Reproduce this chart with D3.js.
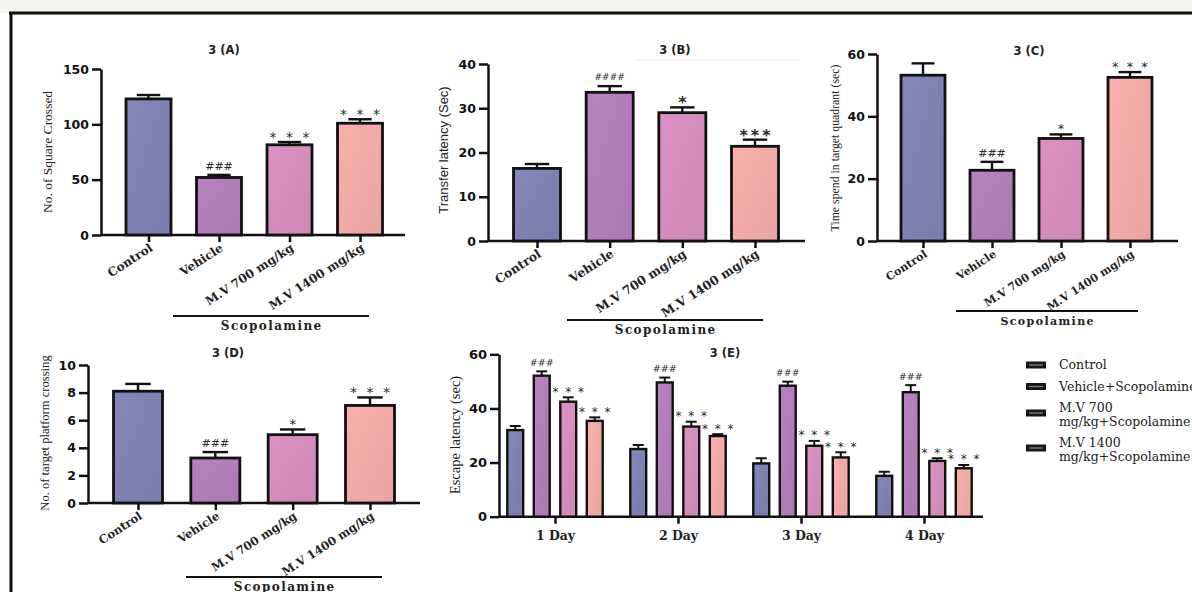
<!DOCTYPE html>
<html>
<head>
<meta charset="utf-8">
<script src="https://cdn.jsdelivr.net/npm/d3@7"></script>
<style>
  html, body { margin: 0; padding: 0; background: #ffffff; }
  svg { display: block; }
</style>
</head>
<body>
<svg id="chart" width="1192" height="592"></svg>
<script>
// ---------------- DATA ----------------
const categories = ["Control", "Vehicle", "M.V 700 mg/kg", "M.V 1400 mg/kg"];
const legendNames = ["Control", "Vehicle+Scopolamine", "M.V 700\nmg/kg+Scopolamine", "M.V 1400\nmg/kg+Scopolamine"];
const groupLabel = "Scopolamine";

// 3 (A) No. of Square Crossed
const aMean = [123, 52, 81.5, 101];
const aSem  = [3.5, 2.3, 2.5, 3.6];
const aSig  = ["", "###", "* * *", "* * *"];
const aTicks = [0, 50, 100, 150];

// 3 (B) Transfer latency (Sec)
const bMean = [16.4, 33.6, 29.0, 21.4];
const bSem  = [1.0, 1.4, 1.2, 1.5];
const bSig  = ["", "####", "*", "***"];
const bTicks = [0, 10, 20, 30, 40];

// 3 (C) Time spend in target quadrant (sec)
const cMean = [53.2, 22.7, 32.9, 52.5];
const cSem  = [3.8, 2.7, 1.3, 1.7];
const cSig  = ["", "###", "*", "* * *"];
const cTicks = [0, 20, 40, 60];

// 3 (D) No. of target platform crossing
const dMean = [8.1, 3.26, 4.95, 7.07];
const dSem  = [0.53, 0.43, 0.38, 0.58];
const dSig  = ["", "###", "*", "* * *"];
const dTicks = [0, 2, 4, 6, 8, 10];

// 3 (E) Escape latency (sec)
const eDays = ["1 Day", "2 Day", "3 Day", "4 Day"];
const eControl = [32.0, 25.0, 19.7, 15.1];
const eVehicle = [52.1, 49.6, 48.4, 46.0];
const eMv700   = [42.5, 33.3, 26.2, 20.6];
const eMv1400  = [35.4, 29.8, 21.9, 17.9];
const eControlSem = [1.5, 1.5, 1.9, 1.5];
const eVehicleSem = [1.6, 1.8, 1.5, 2.6];
const eMv700Sem   = [1.6, 1.8, 1.8, 1.0];
const eMv1400Sem  = [1.3, 0.7, 1.9, 1.2];
const eSigVehicle = ["###", "###", "###", "###"];
const eSigMv700   = ["* * *", "* * *", "* * *", "* * *"];
const eSigMv1400  = ["* * *", "* * *", "* * *", "* * *"];
const eTicks = [0, 20, 40, 60];

// ---------------- STYLE ----------------
const colors = ["#7e80b1", "#b07cb8", "#d38cba", "#f0a9a6"];
const ink = "#111111";
const svg = d3.select("#chart");

// frame
svg.append("rect").attr("x", 0).attr("y", 0).attr("width", 1192).attr("height", 13).attr("fill", "#f4f4f0");
svg.append("line").attr("x1", 9).attr("x2", 1192).attr("y1", 13).attr("y2", 13).attr("stroke", ink).attr("stroke-width", 3);
svg.append("line").attr("x1", 11).attr("x2", 11).attr("y1", 12).attr("y2", 592).attr("stroke", ink).attr("stroke-width", 3);

// gradients
const defs = svg.append("defs");
colors.forEach((c, i) => {
  const g = defs.append("linearGradient").attr("id", "grad" + i).attr("x1", 0).attr("x2", 1).attr("y1", 0).attr("y2", 1);
  g.append("stop").attr("offset", "0%").attr("stop-color", d3.color(c).brighter(0.12));
  g.append("stop").attr("offset", "100%").attr("stop-color", d3.color(c).darker(0.08));
});

function sigBaseline(s, fs) { return s.includes("#") ? 0.36 * fs : 0.62 * fs; }

function styleAxis(g, w) {
  g.selectAll(".domain").attr("stroke", ink).attr("stroke-width", w);
  g.selectAll(".tick line").attr("stroke", ink).attr("stroke-width", w);
}

function addSig(g, s, cx, yTop, o) {
  const isHash = s.includes("#");
  const fs = isHash ? o.hashFs : o.starFs;
  const ls = isHash ? 0 : o.starLs;
  g.append("text").attr("x", cx + ls / 2).attr("y", yTop - 9 + sigBaseline(s, fs))
    .attr("text-anchor", "middle").attr("font-family", "DejaVu Sans")
    .attr("font-weight", isHash ? "normal" : o.starWeight)
    .attr("letter-spacing", ls)
    .attr("font-size", fs).attr("fill", "#2a2a2a").text(s);
}

function drawPanel(o) {
  const g = svg.append("g");
  const y = d3.scaleLinear().domain([0, o.max]).range([o.y0, o.yTop]);
  const x = d3.scalePoint().domain(categories).range([o.c0, o.c1]);

  g.append("line").attr("x1", o.axisX).attr("x2", o.xEnd).attr("y1", o.y0).attr("y2", o.y0)
    .attr("stroke", ink).attr("stroke-width", 2.5);
  const xa = g.append("g").attr("transform", `translate(0,${o.y0})`)
    .call(d3.axisBottom(x).tickSize(7).tickSizeOuter(0).tickFormat(""));
  xa.select(".domain").remove();
  styleAxis(xa, 2.5);

  const ya = g.append("g").attr("transform", `translate(${o.axisX},0)`)
    .call(d3.axisLeft(y).tickValues(o.ticks).tickSize(9).tickSizeOuter(0).tickPadding(3));
  styleAxis(ya, 2.5);
  ya.selectAll(".tick text").attr("font-family", "DejaVu Sans").attr("font-weight", "bold")
    .attr("font-size", 12.5).attr("fill", ink);

  categories.forEach((c, i) => {
    const v = o.mean[i], e = o.sem[i];
    g.append("rect").attr("x", x(c) - o.bw / 2).attr("y", y(v)).attr("width", o.bw).attr("height", y(0) - y(v))
      .attr("fill", `url(#grad${i})`).attr("stroke", ink).attr("stroke-width", 2.8);
    g.append("line").attr("x1", x(c)).attr("x2", x(c)).attr("y1", y(v)).attr("y2", y(v + e))
      .attr("stroke", ink).attr("stroke-width", 2.4);
    g.append("line").attr("x1", x(c) - o.bw * 0.26).attr("x2", x(c) + o.bw * 0.26).attr("y1", y(v + e)).attr("y2", y(v + e))
      .attr("stroke", ink).attr("stroke-width", 2.4);
    if (o.sig[i]) addSig(g, o.sig[i], x(c), y(v + e), o);
    g.append("text").attr("transform", `translate(${x(c) + 5},${o.y0 + 15}) rotate(-33)`)
      .attr("text-anchor", "end").attr("font-family", "DejaVu Serif").attr("font-weight", "bold")
      .attr("font-size", o.catFs).attr("fill", "#222").text(c);
  });

  g.append("text").attr("x", o.titleX).attr("y", o.titleY + 4).attr("text-anchor", "middle")
    .attr("font-family", "DejaVu Sans").attr("font-weight", "bold").attr("font-size", 11.5).attr("fill", "#222").text(o.title);

  g.append("text").attr("transform", `translate(${o.labX},${o.labY}) rotate(-90)`)
    .attr("text-anchor", "middle").attr("dominant-baseline", "central")
    .attr("font-family", o.labFont).attr("font-size", o.labFs).attr("fill", "#222").text(o.label);

  g.append("line").attr("x1", o.sx0).attr("x2", o.sx1).attr("y1", o.sy).attr("y2", o.sy).attr("stroke", ink).attr("stroke-width", 2);
  g.append("text").attr("x", (o.sx0 + o.sx1) / 2 + 0.7).attr("y", o.sy + 14).attr("text-anchor", "middle")
    .attr("font-family", "DejaVu Serif").attr("font-weight", "bold").attr("font-size", o.scopFs)
    .attr("letter-spacing", 1.4).attr("fill", "#222").text(groupLabel);
}

const sigStd = { hashFs: 11, starFs: 14, starLs: 2.5, starWeight: "normal" };

drawPanel(Object.assign({ mean: aMean, sem: aSem, sig: aSig, ticks: aTicks, max: 150,
  axisX: 101, y0: 235, yTop: 69, c0: 148.5, c1: 360, bw: 45, xEnd: 405, catFs: 12, scopFs: 12,
  title: "3 (A)", titleX: 224, titleY: 50,
  label: "No. of Square Crossed", labX: 47, labY: 152, labFont: "Liberation Serif", labFs: 13.5,
  sx0: 173, sx1: 369, sy: 316 }, sigStd));

drawPanel({ mean: bMean, sem: bSem, sig: bSig, ticks: bTicks, max: 40,
  axisX: 488, y0: 241, yTop: 64, c0: 537, c1: 755, bw: 47, xEnd: 805, catFs: 12.3, scopFs: 12,
  title: "3 (B)", titleX: 675, titleY: 50,
  label: "Transfer latency (Sec)", labX: 443, labY: 150, labFont: "Liberation Sans", labFs: 13,
  hashFs: 9, starFs: 16, starLs: 3, starWeight: "bold",
  sx0: 567, sx1: 763, sy: 320 });

drawPanel(Object.assign({ mean: cMean, sem: cSem, sig: cSig, ticks: cTicks, max: 60,
  axisX: 877, y0: 241, yTop: 54, c0: 923, c1: 1130, bw: 44, xEnd: 1178, catFs: 11, scopFs: 11,
  title: "3 (C)", titleX: 1029, titleY: 51,
  label: "Time spend in target quadrant (sec)", labX: 835, labY: 148, labFont: "Liberation Serif", labFs: 11.8,
  sx0: 956, sx1: 1138, sy: 311 }, sigStd, { starFs: 13, starLs: 2 }));

drawPanel(Object.assign({ mean: dMean, sem: dSem, sig: dSig, ticks: dTicks, max: 10,
  axisX: 88, y0: 503, yTop: 365, c0: 138, c1: 370, bw: 49, xEnd: 420, catFs: 11.6, scopFs: 12,
  title: "3 (D)", titleX: 228, titleY: 353,
  label: "No. of target platform crossing", labX: 45, labY: 433, labFont: "Liberation Serif", labFs: 12.6,
  sx0: 186, sx1: 382, sy: 577 }, sigStd));

// faint guide line in B
svg.append("line").attr("x1", 635).attr("x2", 800).attr("y1", 60).attr("y2", 60).attr("stroke", "#ececec").attr("stroke-width", 1);

// ---------------- PANEL E ----------------
(function () {
  const g = svg.append("g");
  const axisX = 499, y0 = 516.7, yTop = 354.3;
  const series = [eControl, eVehicle, eMv700, eMv1400];
  const sems = [eControlSem, eVehicleSem, eMv700Sem, eMv1400Sem];
  const sigs = [null, eSigVehicle, eSigMv700, eSigMv1400];
  const y = d3.scaleLinear().domain([0, 60]).range([y0, yTop]);
  const x = d3.scalePoint().domain(eDays).range([555, 924]);
  const inner = d3.scaleBand().domain(d3.range(4)).range([-53, 53]).paddingInner(0.4).paddingOuter(0.2);

  g.append("line").attr("x1", axisX).attr("x2", 983).attr("y1", y0).attr("y2", y0).attr("stroke", ink).attr("stroke-width", 2.5);
  const xa = g.append("g").attr("transform", `translate(0,${y0})`)
    .call(d3.axisBottom(x).tickSize(7).tickSizeOuter(0).tickPadding(7));
  xa.select(".domain").remove();
  styleAxis(xa, 2.5);
  xa.selectAll(".tick text").attr("font-family", "DejaVu Serif").attr("font-weight", "bold")
    .attr("font-size", 12.5).attr("fill", "#222");

  const ya = g.append("g").attr("transform", `translate(${axisX},0)`)
    .call(d3.axisLeft(y).tickValues(eTicks).tickSize(9).tickSizeOuter(0).tickPadding(3));
  styleAxis(ya, 2.5);
  ya.selectAll(".tick text").attr("font-family", "DejaVu Sans").attr("font-weight", "bold")
    .attr("font-size", 13).attr("fill", ink);

  const eSigStyle = { hashFs: 9.5, starFs: 12, starLs: 1.5, starWeight: "normal" };
  eDays.forEach((d, j) => {
    series.forEach((s, i) => {
      const v = s[j], e = sems[i][j];
      const bx = x(d) + inner(i), bw = inner.bandwidth(), cx = bx + bw / 2;
      g.append("rect").attr("x", bx).attr("y", y(v)).attr("width", bw).attr("height", y(0) - y(v))
        .attr("fill", `url(#grad${i})`).attr("stroke", ink).attr("stroke-width", 2.4);
      g.append("line").attr("x1", cx).attr("x2", cx).attr("y1", y(v)).attr("y2", y(v + e)).attr("stroke", ink).attr("stroke-width", 2);
      g.append("line").attr("x1", cx - 5.5).attr("x2", cx + 5.5).attr("y1", y(v + e)).attr("y2", y(v + e)).attr("stroke", ink).attr("stroke-width", 2);
      if (sigs[i]) addSig(g, sigs[i][j], cx, y(v + e), eSigStyle);
    });
  });

  g.append("text").attr("x", 725).attr("y", 357).attr("text-anchor", "middle")
    .attr("font-family", "DejaVu Sans").attr("font-weight", "bold").attr("font-size", 11.5).attr("fill", "#222").text("3 (E)");

  g.append("text").attr("transform", `translate(455,435) rotate(-90)`)
    .attr("text-anchor", "middle").attr("dominant-baseline", "central")
    .attr("font-family", "Liberation Serif").attr("font-size", 14.5).attr("fill", "#222").text("Escape latency (sec)");

  // legend
  const legY = [365, 386.5, 413, 448];
  const lg = svg.append("g");
  legendNames.forEach((n, i) => {
    lg.append("rect").attr("x", 1026).attr("y", legY[i] - 3.5).attr("width", 20).attr("height", 7).attr("fill", "#151515").attr("rx", 0.5);
    lg.append("rect").attr("x", 1029).attr("y", legY[i] - 0.7).attr("width", 14).attr("height", 1.4).attr("fill", "#7a7a7a");
    const lines = n.split("\n");
    const t = lg.append("text").attr("font-family", "DejaVu Serif").attr("font-size", 12.5).attr("fill", "#222");
    if (lines.length === 1) {
      t.append("tspan").attr("x", 1059).attr("y", legY[i] + 4).text(lines[0]);
    } else {
      t.append("tspan").attr("x", 1059).attr("y", legY[i] - 1).text(lines[0]);
      t.append("tspan").attr("x", 1059).attr("y", legY[i] + 12.5).text(lines[1]);
    }
  });
})();
</script>
</body>
</html>
